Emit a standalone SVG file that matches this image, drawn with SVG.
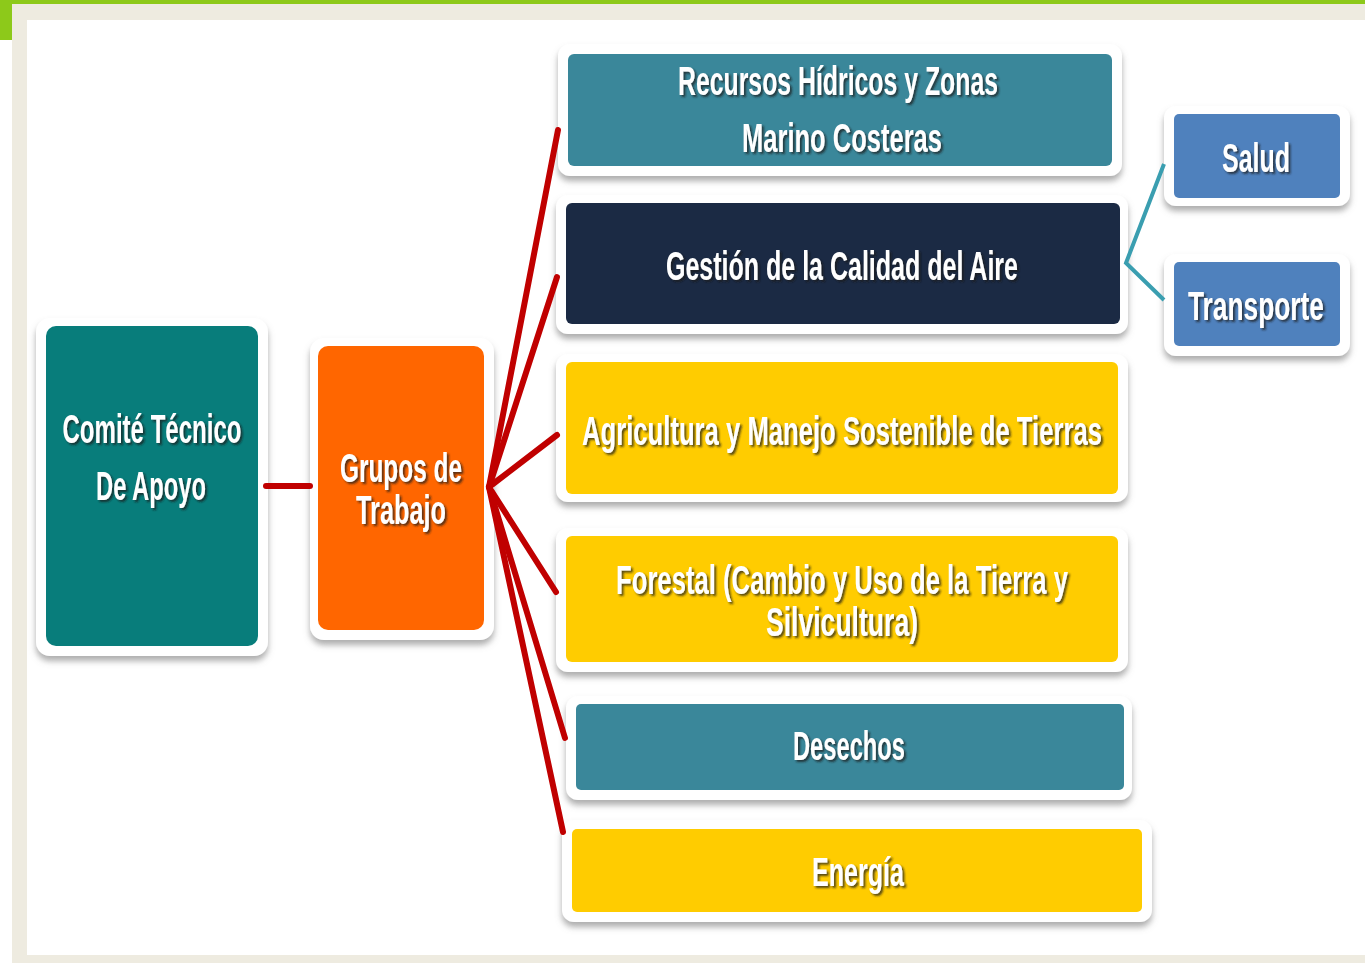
<svg xmlns="http://www.w3.org/2000/svg" width="1365" height="963" viewBox="0 0 1365 963">
<defs>
<style>
.frame{fill:#FFFFFF;filter:url(#sh)}
.t{font-family:"Liberation Sans",Arial,sans-serif;font-size:40px;font-weight:bold;fill:#FFFFFF;text-anchor:middle;filter:url(#tsh)}
.red{stroke:#C00000;stroke-width:6;fill:none;stroke-linecap:round}
.teal{stroke:#3A9EB0;stroke-width:4;fill:none;stroke-linejoin:miter}
</style>
<filter id="sh" x="-10%" y="-10%" width="120%" height="130%">
<feDropShadow dx="0" dy="5" stdDeviation="3" flood-color="#777" flood-opacity="0.6"/>
</filter>
<filter id="tsh" x="-10%" y="-20%" width="120%" height="150%">
<feDropShadow dx="2" dy="2" stdDeviation="1" flood-color="#1a1a1a" flood-opacity="0.75"/>
</filter>
</defs>
<rect x="0" y="0" width="1365" height="963" fill="#FFFFFF"/>
<rect x="12" y="4" width="1353" height="959" fill="#EEEBE0"/>
<rect x="27" y="20" width="1338" height="935" fill="#FFFFFF"/>
<rect x="0" y="0" width="1365" height="4" fill="#8DC91A"/>
<rect x="0" y="0" width="12" height="40" fill="#8DC91A"/>

<g id="comite">
<rect class="frame" x="36" y="318" width="232" height="338" rx="14"/>
<rect x="46" y="326" width="212" height="320" rx="10" fill="#087D7B"/>
<text class="t" x="152" y="443" textLength="179" lengthAdjust="spacingAndGlyphs">Comité Técnico</text>
<text class="t" x="151" y="500" textLength="110" lengthAdjust="spacingAndGlyphs">De Apoyo</text>
</g>

<g id="grupos">
<rect class="frame" x="310" y="338" width="184" height="302" rx="14"/>
<rect x="318" y="346" width="166" height="284" rx="10" fill="#FF6600"/>
<text class="t" x="401" y="482" textLength="122" lengthAdjust="spacingAndGlyphs">Grupos de</text>
<text class="t" x="401" y="524" textLength="90" lengthAdjust="spacingAndGlyphs">Trabajo</text>
</g>

<g id="recursos">
<rect class="frame" x="558" y="44" width="564" height="132" rx="12"/>
<rect x="568" y="54" width="544" height="112" rx="6" fill="#3A879A"/>
<text class="t" x="838" y="95" textLength="320" lengthAdjust="spacingAndGlyphs">Recursos Hídricos y Zonas</text>
<text class="t" x="842" y="152" textLength="200" lengthAdjust="spacingAndGlyphs">Marino Costeras</text>
</g>

<g id="gestion">
<rect class="frame" x="556" y="195" width="572" height="139" rx="12"/>
<rect x="566" y="203" width="554" height="121" rx="6" fill="#1B2A44"/>
<text class="t" x="842" y="280" textLength="352" lengthAdjust="spacingAndGlyphs">Gestión de la Calidad del Aire</text>
</g>

<g id="agricultura">
<rect class="frame" x="556" y="354" width="572" height="148" rx="12"/>
<rect x="566" y="362" width="552" height="132" rx="6" fill="#FFCC00"/>
<text class="t" x="842" y="445" textLength="520" lengthAdjust="spacingAndGlyphs">Agricultura y Manejo Sostenible de Tierras</text>
</g>

<g id="forestal">
<rect class="frame" x="556" y="528" width="572" height="144" rx="12"/>
<rect x="566" y="536" width="552" height="126" rx="6" fill="#FFCC00"/>
<text class="t" x="842" y="594" textLength="452" lengthAdjust="spacingAndGlyphs">Forestal (Cambio y Uso de la Tierra y</text>
<text class="t" x="842" y="636" textLength="152" lengthAdjust="spacingAndGlyphs">Silvicultura)</text>
</g>

<g id="desechos">
<rect class="frame" x="566" y="696" width="566" height="104" rx="12"/>
<rect x="576" y="704" width="548" height="86" rx="5" fill="#3A879A"/>
<text class="t" x="849" y="760" textLength="112" lengthAdjust="spacingAndGlyphs">Desechos</text>
</g>

<g id="energia">
<rect class="frame" x="562" y="820" width="590" height="102" rx="12"/>
<rect x="572" y="829" width="570" height="83" rx="5" fill="#FFCC00"/>
<text class="t" x="858" y="886" textLength="92" lengthAdjust="spacingAndGlyphs">Energía</text>
</g>

<g id="salud">
<rect class="frame" x="1164" y="106" width="186" height="100" rx="12"/>
<rect x="1174" y="114" width="166" height="84" rx="5" fill="#4F81BD"/>
<text class="t" x="1256" y="172" textLength="68" lengthAdjust="spacingAndGlyphs">Salud</text>
</g>

<g id="transporte">
<rect class="frame" x="1164" y="254" width="186" height="102" rx="12"/>
<rect x="1174" y="262" width="166" height="84" rx="5" fill="#4F81BD"/>
<text class="t" x="1256" y="320" textLength="136" lengthAdjust="spacingAndGlyphs">Transporte</text>
</g>

<g id="connectors">
<line class="red" x1="266" y1="486" x2="310" y2="486"/>
<line class="red" x1="489" y1="487" x2="558" y2="130"/>
<line class="red" x1="489" y1="487" x2="557" y2="277"/>
<line class="red" x1="489" y1="487" x2="557" y2="435"/>
<line class="red" x1="489" y1="487" x2="556" y2="592"/>
<line class="red" x1="489" y1="487" x2="565" y2="738"/>
<line class="red" x1="489" y1="487" x2="563" y2="832"/>
<polyline class="teal" points="1164,164 1126,263 1164,300"/>
</g>
</svg>
